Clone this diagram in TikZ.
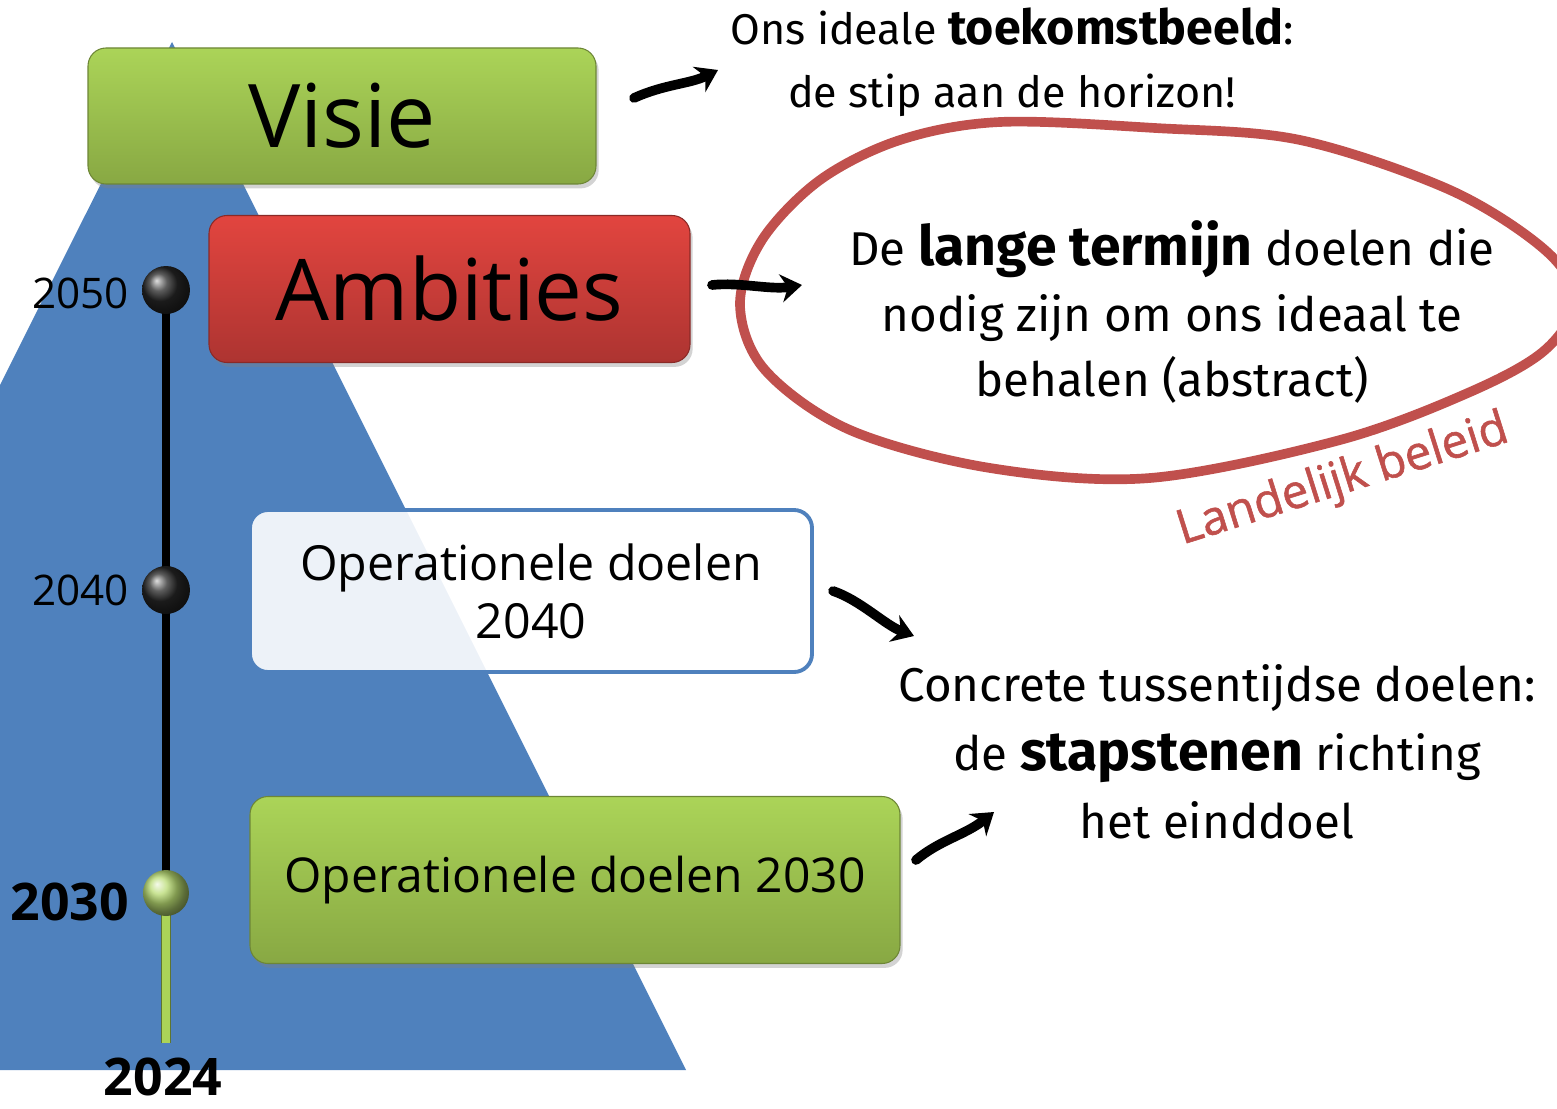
\documentclass[tikz,border=0pt]{standalone}
\usepackage{fontspec}
\setmainfont{Open Sans}
\newfontfamily\hand{Fira Sans}
\newfontfamily\labfont{Open Sans}[FakeBold=1.2]
\usetikzlibrary{shadows,arrows.meta}
\definecolor{tri}{HTML}{4F81BD}
\definecolor{gtop}{HTML}{ABD458}
\definecolor{gbot}{HTML}{88A843}
\definecolor{rtop}{HTML}{E2453F}
\definecolor{rbot}{HTML}{AD3431}
\definecolor{loopred}{HTML}{C0504D}
\tikzset{
  box/.style={rounded corners=0.36cm, draw=black!35, line width=0.6pt,
    drop shadow={opacity=0.35, shadow xshift=1.5pt, shadow yshift=-2.5pt}},
  greenbox/.style={box, top color=gtop, bottom color=gbot, draw=gbot!80!black},
  redbox/.style={box, top color=rtop, bottom color=rbot, draw=rbot!80!black},
  whitebox/.style={rounded corners=0.36cm, draw=tri, line width=2.2pt, fill=white, fill opacity=0.9, text opacity=1},
  yearlab/.style={anchor=east, font=\fontsize{24}{28}\selectfont},
  boldyear/.style={font=\bfseries\fontsize{29.5}{34}\selectfont},
  handtxt/.style={align=center, font=\hand\fontsize{25}{34}\selectfont},
  hwarrow/.style={line width=5.5pt, -{Stealth[length=12pt,width=16pt]}, line cap=round},
  blackball/.style={circle, minimum size=0.96cm, shading=ball, ball color=black!85, inner sep=0pt},
  greenball/.style={circle, minimum size=0.92cm, shading=ball, ball color=gtop!85!white, inner sep=0pt}
}
\begin{document}
\begin{tikzpicture}[x=0.02cm, y=-0.02cm]
\useasboundingbox (0,0) rectangle (1557,1108);
% triangle
\fill[tri] (172,42) -- (686,1070) -- (0,1070) -- (0,385) -- cycle;
% timeline
\coordinate (t2050) at (166,290);
\coordinate (t2040) at (166,590);
\coordinate (t2030) at (166,893);
\coordinate (t2024) at (166,1043);
\draw[black, line width=4.5pt] (t2050) -- (t2030);
\draw[gbot!70!black, line width=6pt] (t2030) -- (t2024);
\draw[gtop, line width=4pt] (t2030) -- (t2024);
\node[blackball] (b2050) at (t2050) {};
\node[blackball] (b2040) at (t2040) {};
\node[greenball] (b2030) at (t2030) {};
\node[yearlab] (l2050) at (135,293) {2050};
\node[yearlab] (l2040) at (135,590) {2040};
\node[boldyear, anchor=east] (l2030) at (135,902) {2030};
\node[boldyear] (l2024) at (163,1077) {2024};
% boxes
\node[greenbox, minimum width=508*0.02cm, minimum height=136*0.02cm, font=\fontsize{50}{60}\selectfont] (visie) at (342,116) {Visie};
\node[redbox, minimum width=481*0.02cm, minimum height=147*0.02cm, font=\fontsize{48.5}{58}\selectfont] (ambities) at (449.5,289) {Ambities};
\node[whitebox, minimum width=562*0.02cm, minimum height=162*0.02cm, align=center, font=\fontsize{27.5}{33}\selectfont] (op2040) at (531,591) {Operationele doelen\\2040};
\node[greenbox, minimum width=650*0.02cm, minimum height=167*0.02cm, font=\fontsize{27.3}{33}\selectfont] (op2030) at (575,880) {Operationele doelen 2030};
% handwritten texts
\node[handtxt, font=\hand\fontsize{24.5}{34}\selectfont] (tvisie) at (1012,62) {Ons ideale {\bfseries\fontsize{27.5}{34}\selectfont toekomstbeeld}:\\[2pt]de stip aan de horizon!};
\node[handtxt, font=\hand\fontsize{27}{37.5}\selectfont] (tamb) at (1172,312) {De {\bfseries\fontsize{31.5}{37.5}\selectfont lange termijn} doelen die\\nodig zijn om ons ideaal te\\behalen (abstract)};
\node[handtxt, font=\hand\fontsize{27}{39}\selectfont] (top) at (1217,752) {Concrete tussentijdse doelen:\\de {\bfseries\fontsize{31.5}{39}\selectfont stapstenen} richting\\het einddoel};
% red loop
\begin{scope}
\clip (0,0) rectangle (1557,1108);
\draw[loopred, line width=5.5pt, line join=round] plot[smooth cycle, tension=0.55] coordinates {
 (1000,122) (1155,128) (1300,140) (1450,190) (1545,250) (1575,300)
 (1545,350) (1470,392) (1340,440) (1150,478) (990,468) (850,430)
 (765,370) (740,305) (762,240) (820,180) (900,140)};
\end{scope}
\node[loopred, rotate=17.5, font=\labfont\fontsize{27}{32}\selectfont] (landelijk) at (1343,481) {Landelijk beleid};
% arrows
\coordinate (a1s) at (634,98);
\coordinate (a1e) at (718,70);
\coordinate (a2s) at (712,285);
\coordinate (a2e) at (802,285);
\coordinate (a3s) at (833,591);
\coordinate (a3e) at (914,636);
\coordinate (a4s) at (916,860);
\coordinate (a4e) at (994,812);
\draw[hwarrow] (a1s) .. controls (665,84) and (690,84) .. (a1e);
\draw[hwarrow] (a2s) .. controls (740,282) and (770,290) .. (a2e);
\draw[hwarrow] (a3s) .. controls (860,600) and (885,625) .. (a3e);
\draw[hwarrow] (a4s) .. controls (940,840) and (965,835) .. (a4e);
\end{tikzpicture}
\end{document}
